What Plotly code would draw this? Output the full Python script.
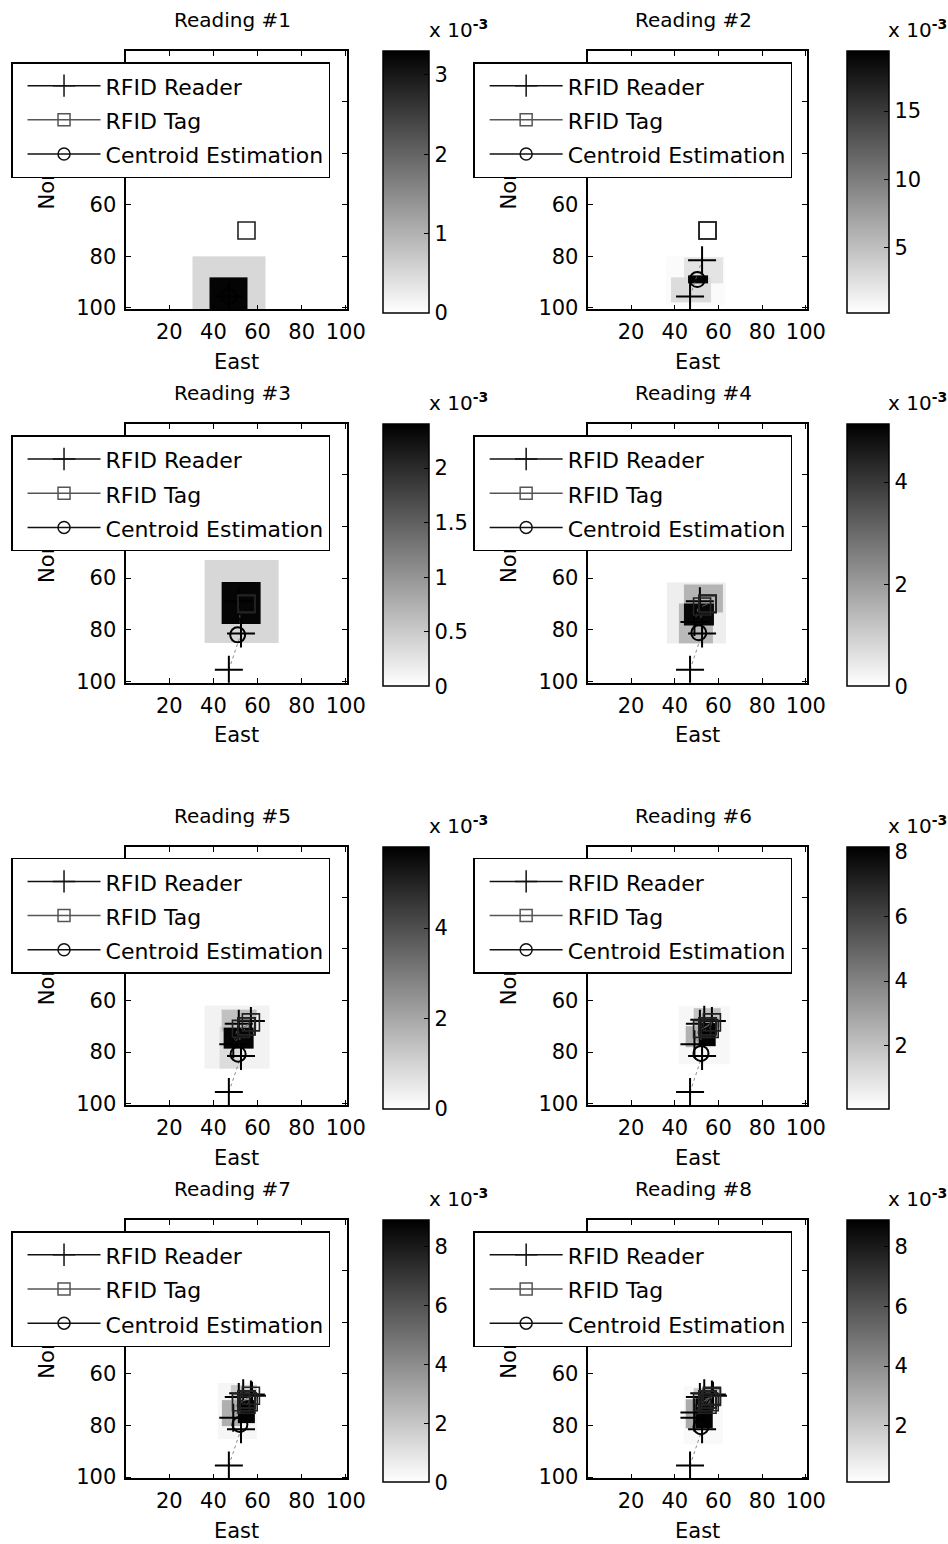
import plotly.graph_objects as go

# the captured page is slightly down-scaled; lay the figure out in page pixels
SX, SY = 0.978, 0.992
W, H = round(948 / SX), round(1544 / SY)

# ---------------- data ----------------
titles = ["Reading #1", "Reading #2", "Reading #3", "Reading #4",
          "Reading #5", "Reading #6", "Reading #7", "Reading #8"]
legend_names = ["RFID Reader", "RFID Tag", "Centroid Estimation"]

# RFID reader positions (reading k shows the first k)
reader_x = [47, 52.5, 51.5, 49, 57, 53.5, 57.5, 49]
reader_y = [95.5, 81.5, 69, 77, 68, 67.5, 68.5, 75]
# RFID tag positions (reading k shows the first k)
tag_x = [55, 55, 55, 52.5, 57, 56, 55, 57]
tag_y = [70, 70, 70, 71, 68.5, 71, 72, 69]
# centroid estimate for each reading
centroid_x = [47, 50.3, 51, 51, 51.2, 52, 52, 52]
centroid_y = [95.5, 89, 82, 81.2, 80.8, 80.5, 79.6, 80.5]

# probability blocks per reading: (east0, east1, north0, north1, value x1e-3)
blocks_1 = [(30.5, 63.5, 80, 100.5, 0.5), (38, 55.5, 88, 100.5, 3.25)]
blocks_2 = [(36, 63, 80, 99, 0.5), (44.4, 62.3, 80.5, 90.4, 2.2),
            (38.3, 56.8, 88.2, 98, 2.8), (46, 55, 87.5, 90.5, 19.2)]
blocks_3 = [(36, 69.5, 53, 85, 0.38), (43.6, 61.4, 61.4, 77.7, 2.35)]
blocks_4 = [(36.4, 63.3, 61.7, 85.4, 0.35), (44.4, 61.9, 62.3, 73.2, 1.5),
            (41.8, 57.3, 70, 85.4, 1.4), (44, 58, 70, 78.3, 5.0)]
blocks_5 = [(36, 65.6, 62, 86.5, 0.3), (43.6, 59.5, 63.5, 72, 1.4),
            (42.9, 52.7, 70, 86.5, 0.8), (44.4, 58, 70.4, 78.8, 5.7)]
blocks_6 = [(41.8, 65, 62.2, 84.6, 0.3), (48.8, 61.1, 62.8, 70.5, 2.0),
            (44.9, 53.4, 69.8, 78.2, 2.5), (51.1, 58.8, 68.6, 77.5, 8.1)]
blocks_7 = [(42, 59.5, 63.6, 85.4, 0.3), (48, 59.5, 64.2, 70.5, 1.8),
            (43.6, 52.7, 70, 80.2, 2.8), (51.2, 58.8, 70, 79, 8.8)]
blocks_8 = [(44.1, 61.9, 64.8, 87.3, 0.3), (48.8, 61.1, 65.5, 71.3, 2.0),
            (44.9, 52.6, 70, 80.9, 3.0), (49.5, 57.3, 69.3, 80.9, 8.8)]
blocks = [blocks_1, blocks_2, blocks_3, blocks_4,
          blocks_5, blocks_6, blocks_7, blocks_8]

cbar_min = [0, 0.2, 0, 0, 0, 0.05, 0, 0.1]
cbar_max = [3.3, 19.4, 2.4, 5.13, 5.8, 8.15, 8.9, 8.9]
cbar_ticks = [[0, 1, 2, 3], [5, 10, 15], [0, 0.5, 1, 1.5, 2], [0, 2, 4],
              [0, 2, 4], [2, 4, 6, 8], [0, 2, 4, 6, 8], [2, 4, 6, 8]]
cbar_ticktext = [["0", "1", "2", "3"], ["5", "10", "15"],
                 ["0", "0.5", "1", "1.5", "2"], ["0", "2", "4"],
                 ["0", "2", "4"], ["2", "4", "6", "8"],
                 ["0", "2", "4", "6", "8"], ["2", "4", "6", "8"]]

axis_ticks = [20, 40, 60, 80, 100]

# ---------------- layout geometry (pixels in the picture) ----------------
col_left = [126, 587]
col_right = [346, 805]
row_top = [51, 424, 846, 1219]
row_bot = [309, 682, 1104, 1477]
cbar_left = [382, 845]
cbar_w = [45, 41]
legend_left = [11, 472]
expo_left = [426, 884]

FONT = "DejaVu Sans, Verdana, sans-serif"
FS = 21


def px(xp):
    return (xp / SX) / W


def py(yp):
    return 1 - (yp / SY) / H


def grid(bl):
    xs = sorted({b[0] for b in bl} | {b[1] for b in bl})
    ys = sorted({b[2] for b in bl} | {b[3] for b in bl})
    z = []
    for j in range(len(ys) - 1):
        yc = (ys[j] + ys[j + 1]) / 2
        row = []
        for i in range(len(xs) - 1):
            xc = (xs[i] + xs[i + 1]) / 2
            vals = [b[4] for b in bl if b[0] <= xc <= b[1] and b[2] <= yc <= b[3]]
            row.append(max(vals) if vals else None)
        z.append(row)
    return xs, ys, z


def legend_label(s):
    return '<span style="font-size:22px">' + s + "</span>"


fig = go.Figure()
layout = dict(
    width=W, height=H, margin=dict(l=0, r=0, t=0, b=0),
    paper_bgcolor="white", plot_bgcolor="white",
    font=dict(family=FONT, size=FS, color="black"),
    showlegend=True,
)
annotations = []

greys = [[0, "rgb(255,255,255)"], [1, "rgb(0,0,0)"]]

for k in range(8):
    r, c = k // 2, k % 2
    n = k + 1
    xa = "x" if k == 0 else f"x{n}"
    ya = "y" if k == 0 else f"y{n}"
    leg = "legend" if k == 0 else f"legend{n}"

    xs, ys, z = grid(blocks[k])
    fig.add_trace(go.Heatmap(
        x=xs, y=ys, z=z, xaxis=xa, yaxis=ya, colorscale=greys,
        zmin=cbar_min[k], zmax=cbar_max[k], zsmooth=False, hoverongaps=False,
        showscale=True,
        colorbar=dict(
            x=px(cbar_left[c]), xanchor="left", xpad=0,
            y=py(row_top[r]), yanchor="top", ypad=0,
            len=(row_bot[r] - row_top[r] + 2) / SY, lenmode="pixels",
            thickness=cbar_w[c] / SX, thicknessmode="pixels",
            outlinecolor="black", outlinewidth=1.5,
            tickvals=cbar_ticks[k], ticktext=cbar_ticktext[k],
            ticks="inside", ticklen=5, tickcolor="black",
            tickfont=dict(size=FS, family=FONT),
        ),
    ))

    # data traces
    fig.add_trace(go.Scatter(
        x=reader_x[:n], y=reader_y[:n], xaxis=xa, yaxis=ya, mode="lines+markers",
        line=dict(color="rgba(110,110,110,0.8)", width=1, dash="dot"),
        marker=dict(symbol="cross-thin-open", size=20, color="black",
                    line=dict(color="black", width=2)),
        showlegend=False, hoverinfo="skip"))
    fig.add_trace(go.Scatter(
        x=tag_x[:n], y=tag_y[:n], xaxis=xa, yaxis=ya, mode="lines+markers",
        line=dict(color="rgba(110,110,110,0.8)", width=1),
        marker=dict(symbol="square-open", size=17, color="#222",
                    line=dict(color="#222", width=1.6)),
        showlegend=False, hoverinfo="skip"))
    fig.add_trace(go.Scatter(
        x=[centroid_x[k]], y=[centroid_y[k]], xaxis=xa, yaxis=ya,
        mode="markers",
        marker=dict(symbol="circle-open", size=15, color="black",
                    line=dict(color="black", width=2)),
        showlegend=False, hoverinfo="skip"))

    # legend entries
    fig.add_trace(go.Scatter(
        x=[None], y=[None], xaxis=xa, yaxis=ya, mode="lines+markers",
        name=legend_label(legend_names[0]), legend=leg,
        line=dict(color="#111", width=1.5),
        marker=dict(symbol="cross-thin-open", size=16, color="#111",
                    line=dict(color="#111", width=1.5))))
    fig.add_trace(go.Scatter(
        x=[None], y=[None], xaxis=xa, yaxis=ya, mode="lines+markers",
        name=legend_label(legend_names[1]), legend=leg,
        line=dict(color="#555", width=1.5),
        marker=dict(symbol="square-open", size=12, color="#555",
                    line=dict(color="#555", width=1.5))))
    fig.add_trace(go.Scatter(
        x=[None], y=[None], xaxis=xa, yaxis=ya, mode="lines+markers",
        name=legend_label(legend_names[2]), legend=leg,
        line=dict(color="#111", width=1.5),
        marker=dict(symbol="circle-open", size=12, color="#111",
                    line=dict(color="#111", width=1.5))))

    layout[leg] = dict(
        x=px(legend_left[c]), xanchor="left",
        y=py(row_top[r] + 11), yanchor="top",
        bgcolor="white", bordercolor="black", borderwidth=1.5,
        font=dict(size=24, family=FONT, color="black"),
        itemwidth=73, tracegroupgap=0, indentation=10,
    )

    axkey_x = "xaxis" if k == 0 else f"xaxis{n}"
    axkey_y = "yaxis" if k == 0 else f"yaxis{n}"
    layout[axkey_x] = dict(
        domain=[px(col_left[c]), px(col_right[c])], anchor=ya,
        range=[0.5, 100.5], tickvals=axis_ticks,
        showline=True, linecolor="black", linewidth=1.5, mirror="allticks",
        ticks="inside", ticklen=5, tickcolor="black", showgrid=False,
        zeroline=False, ticklabelstandoff=3,
        title=dict(text="East", standoff=11, font=dict(size=FS)),
    )
    layout[axkey_y] = dict(
        domain=[py(row_bot[r]), py(row_top[r])], anchor=xa,
        range=[100.5, 0.5], tickvals=axis_ticks,
        showline=True, linecolor="black", linewidth=1.5, mirror="allticks",
        ticks="inside", ticklen=5, tickcolor="black", showgrid=False,
        zeroline=False, ticklabelstandoff=4,
        title=dict(text="North", standoff=16, font=dict(size=FS)),
    )

    # title
    annotations.append(dict(
        text=titles[k], xref="paper", yref="paper",
        x=px((col_left[c] + col_right[c]) / 2 - 4), y=py(row_top[r] - 31),
        xanchor="center", yanchor="middle", showarrow=False,
        font=dict(size=20, family=FONT)))
    # colorbar exponent
    annotations.append(dict(
        text="x 10<sup><b>-3</b></sup>", xref="paper", yref="paper",
        x=px(expo_left[c]), y=py(row_top[r] - 22),
        xanchor="left", yanchor="middle",
        showarrow=False, font=dict(size=20, family=FONT)))

layout["annotations"] = annotations
fig.update_layout(**layout)

# page without margins / scrollbars; legend boxes above the axis titles
page_js = """
document.documentElement.style.overflow = 'hidden';
document.body.style.margin = '0';
document.body.style.overflow = 'hidden';
var gd = document.getElementById('{plot_id}');
function raiseLegends() {
  var il = gd.querySelector('.infolayer');
  if (!il) return;
  var gs = Array.prototype.slice.call(il.children).filter(function (g) {
    var c = g.getAttribute('class') || '';
    return /^legend\\d*$/.test(c.split(' ')[0]);
  });
  gs.forEach(function (g) { il.appendChild(g); });
}
raiseLegends();
gd.on('plotly_afterplot', raiseLegends);
"""
fig.write_html("out.html", post_script=page_js,
               config={"displayModeBar": False})
